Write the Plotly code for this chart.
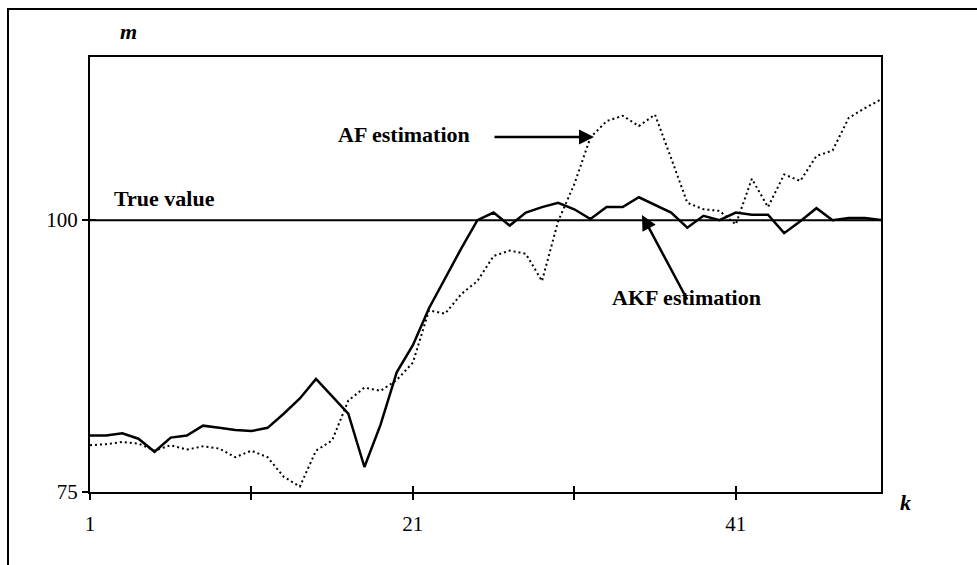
import plotly.graph_objects as go

k = list(range(1, 51))
akf = [80.2, 80.2, 80.4, 79.9, 78.7, 80.0, 80.2, 81.1, 80.9, 80.7,
       80.6, 80.9, 82.2, 83.6, 85.4, 83.8, 82.2, 77.3, 81.2, 86.0,
       88.5, 91.9, 94.7, 97.4, 100.0, 100.7, 99.5, 100.7, 101.2, 101.6,
       101.0, 100.1, 101.2, 101.2, 102.1, 101.4, 100.7, 99.3, 100.4, 100.0,
       100.7, 100.5, 100.5, 98.8, 99.9, 101.1, 100.0, 100.2, 100.2, 100.0]
af = [79.3, 79.4, 79.6, 79.45, 78.8, 79.3, 78.9, 79.2, 79.0, 78.2,
      78.8, 78.2, 76.4, 75.5, 78.8, 79.75, 83.4, 84.6, 84.3, 85.3,
      86.9, 91.7, 91.4, 93.2, 94.4, 96.7, 97.2, 96.9, 94.4, 99.9,
      103.3, 107.6, 109.1, 109.6, 108.65, 109.7, 105.7, 101.6, 101.0, 100.85,
      99.6, 103.8, 101.2, 104.2, 103.6, 105.9, 106.4, 109.4, 110.3, 111.1]
true_value = [100.0] * len(k)

x_tickvals = [1, 11, 21, 31, 41]
x_ticktext = ["1", "", "21", "", "41"]
y_tickvals = [75, 100]
y_ticktext = ["75", "100"]

W, H = 977, 565
L, R, T, B = 90, 881, 57, 492  # plot area in pixels


def px(xp):
    return (xp - L) / (R - L)


def py(yp):
    return (B - yp) / (B - T)


FONT = "Liberation Serif"

fig = go.Figure()
fig.add_trace(go.Scatter(x=k, y=af, mode="lines", line=dict(color="black", width=2, dash="2px,3px"),
                         showlegend=False, hoverinfo="skip"))
fig.add_trace(go.Scatter(x=k, y=akf, mode="lines", line=dict(color="black", width=2.5),
                         showlegend=False, hoverinfo="skip"))
fig.add_trace(go.Scatter(x=k, y=true_value, mode="lines", line=dict(color="black", width=2),
                         showlegend=False, hoverinfo="skip", xaxis="x2", yaxis="y2"))

axis_common = dict(showgrid=False, zeroline=False, tickcolor="black", tickwidth=2, ticklen=6)

fig.update_layout(
    width=W, height=H,
    margin=dict(l=L, r=W - R, t=T, b=H - B, pad=0),
    paper_bgcolor="white", plot_bgcolor="white",
    font=dict(family=FONT, size=21, color="black"),
    xaxis=dict(range=[1, 50], tickmode="array", tickvals=x_tickvals, ticktext=x_ticktext,
               ticks="outside", showline=True, linecolor="black", linewidth=2, mirror=True,
               ticklabelstandoff=6, tickfont=dict(size=21, family=FONT), **axis_common),
    yaxis=dict(range=[75, 115], tickmode="array", tickvals=y_tickvals, ticktext=y_ticktext,
               ticks="outside", showline=True, linecolor="black", linewidth=2, mirror=True,
               ticklabelstandoff=0, tickfont=dict(size=21, family=FONT), **axis_common),
    xaxis2=dict(range=[1, 50], overlaying="x", anchor="y2", side="bottom", tickmode="array",
                tickvals=x_tickvals, ticks="inside", showticklabels=False, showline=False,
                **axis_common),
    yaxis2=dict(range=[75, 115], overlaying="y", anchor="x2", side="left", tickmode="array",
                tickvals=y_tickvals, ticks="inside", showticklabels=False, showline=False,
                **axis_common),
    showlegend=False,
)

# outer frame (left and top edges visible)
fig.add_shape(type="line", xref="paper", yref="paper", x0=px(8), x1=px(8), y0=py(9), y1=py(600),
              line=dict(color="black", width=2))
fig.add_shape(type="line", xref="paper", yref="paper", x0=px(7), x1=px(1000), y0=py(9), y1=py(9),
              line=dict(color="black", width=2))

# axis letters
fig.add_annotation(xref="paper", yref="paper", x=px(128), y=py(32), text="<b><i>m</i></b>",
                   showarrow=False, font=dict(size=22, family=FONT), xanchor="center", yanchor="middle")
fig.add_annotation(xref="paper", yref="paper", x=px(905), y=py(503), text="<b><i>k</i></b>",
                   showarrow=False, font=dict(size=22, family=FONT), xanchor="center", yanchor="middle")

# labels
fig.add_annotation(xref="paper", yref="paper", x=px(112), y=py(198), text="<b>True value</b>",
                   showarrow=False, font=dict(size=22, family=FONT), xanchor="left", yanchor="middle")
fig.add_annotation(xref="paper", yref="paper", x=px(336), y=py(134), text="<b>AF estimation</b>",
                   showarrow=False, font=dict(size=22, family=FONT), xanchor="left", yanchor="middle")
fig.add_annotation(xref="paper", yref="paper", x=px(610), y=py(297), text="<b>AKF estimation</b>",
                   showarrow=False, font=dict(size=22, family=FONT), xanchor="left", yanchor="middle")

# arrows
fig.add_annotation(xref="paper", yref="paper", x=px(594), y=py(137), ax=493 - 594, ay=0,
                   axref="pixel", ayref="pixel", text="", showarrow=True,
                   arrowhead=2, arrowsize=1.2, arrowwidth=2.5, arrowcolor="black")
fig.add_annotation(xref="paper", yref="paper", x=px(642), y=py(215), ax=688 - 642, ay=301 - 215,
                   axref="pixel", ayref="pixel", text="", showarrow=True,
                   arrowhead=2, arrowsize=1.2, arrowwidth=2.5, arrowcolor="black")

fig.write_html("out.html")
